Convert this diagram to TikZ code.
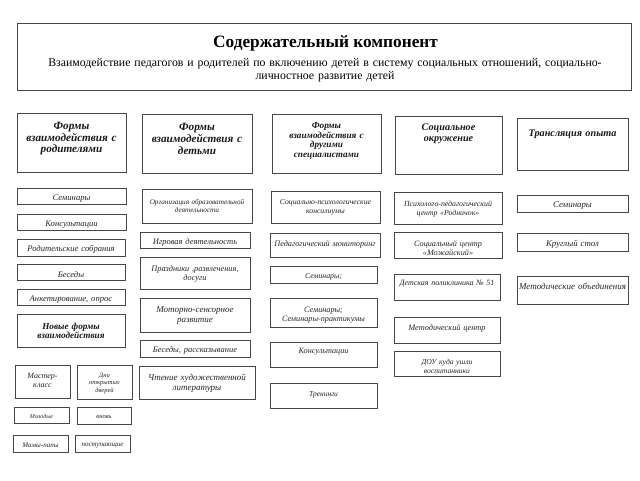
\documentclass[tikz,border=0pt]{standalone}
\usepackage{fontspec}
\setmainfont{Liberation Serif}
\tikzset{
  boxst/.style={draw=black!72, line width=0.8pt, inner sep=0pt, rectangle},
  tx/.style={inner sep=0pt, align=center, font=\itshape\fontsize{#1}{\dimexpr #1pt*115/100\relax}\selectfont, text=black!85},
  txb/.style={inner sep=0pt, align=center, font=\bfseries\itshape\fontsize{#1}{\dimexpr #1pt*104/100\relax}\selectfont, text=black!90},
}
% name, x1, y1, x2, y2, text style, dy (down, px), text
\newcommand\bx[8]{%
  \pgfmathsetmacro\bxw{#4-#2}%
  \pgfmathsetmacro\bxh{#5-#3}%
  \pgfmathsetmacro\bxt{#4-#2-4}%
  \pgfmathsetmacro\bxd{-(#7)-1.8}%
  \node[boxst, minimum width=\bxw pt, minimum height=\bxh pt] (#1) at ({(#2+#4)/2},{(#3+#5)/2}) {};
  \node[#6, text width=\bxt pt] (#1t) at ([yshift=\bxd pt]#1.center) {#8};
}
\begin{document}
\begin{tikzpicture}[x=1pt,y=-1pt]
\useasboundingbox[fill=white] (0,0) rectangle (640,480);
% title
\node[boxst, minimum width=614pt, minimum height=67pt] (title) at (324,56.5) {};
\node[inner sep=0pt, font=\bfseries\fontsize{17.3}{20}\selectfont] (titlet) at (325.5,43.5) {Содержательный компонент};
\node[inner sep=0pt, align=center, font=\fontsize{11.8}{13}\selectfont, text width=600pt] (subt) at (325,70.5) {Взаимодействие педагогов и родителей по включению детей в систему социальных отношений, социально-\\личностное развитие детей};
% column 1
\bx{h1}{17}{113}{126}{172}{txb=11.2}{-5.5}{Формы\\взаимодействия с\\родителями}
\bx{a1}{17}{188}{126}{204}{tx=8.6}{0.5}{Семинары}
\bx{a2}{17}{214}{126}{230}{tx=8.6}{0.5}{Консультации}
\bx{a3}{17}{239}{125}{256}{tx=8.6}{0.5}{Родительские собрания}
\bx{a4}{17}{264}{125}{280}{tx=8.6}{0.5}{Беседы}
\bx{a5}{17}{289}{125}{305}{tx=8.6}{0.5}{Анкетирование, опрос}
\bx{a6}{17}{314}{125}{347}{txb=9.2}{-1.5}{Новые формы\\взаимодействия}
\bx{a7}{15}{365}{70}{398}{tx=8}{-2.5}{Мастер-\\класс}
\bx{a8}{77}{365}{132}{399}{tx=6.5}{-0.5}{Дни\\открытых\\дверей}
\bx{a9}{14}{407}{69}{423}{tx=6}{0}{Молодые}
\bx{a10}{77}{407}{131}{424}{tx=6.5}{0}{вновь}
\bx{a11}{13}{435}{68}{452}{tx=7}{0}{Мамы-папы}
\bx{a12}{75}{435}{130}{452}{tx=7}{0}{поступающие}
% column 2
\bx{h2}{142}{114}{252}{173}{txb=11.2}{-6.5}{Формы\\взаимодействия с\\детьми}
\bx{b1}{142}{189}{252}{223}{tx=7.2}{-2}{Организация образовательной\\деятельности}
\bx{b2}{140}{232}{250}{248}{tx=8.5}{0.5}{Игровая деятельность}
\bx{b3}{140}{257}{250}{289}{tx=8.3}{-1}{Праздники ,развлечения,\\досуги}
\bx{b4}{140}{298}{250}{332}{tx=9}{-1}{Моторно-сенсорное\\развитие}
\bx{b5}{140}{340}{250}{357}{tx=8.5}{0.5}{Беседы, рассказывание}
\bx{b6}{139}{366}{255}{399}{tx=9}{-1}{Чтение художественной\\литературы}
% column 3
\bx{h3}{272}{114}{381}{173}{txb=9.2}{-4.5}{Формы\\взаимодействия с\\другими\\специалистами}
\bx{c1}{271}{191}{380}{223}{tx=7.7}{-1.5}{Социально-психологические\\консилиумы}
\bx{c2}{270}{233}{380}{257}{tx=8.2}{-2}{Педагогический мониторинг}
\bx{c3}{270}{266}{377}{283}{tx=7.8}{0}{Семинары;}
\bx{c4}{270}{298}{377}{327}{tx=8.2}{1}{Семинары;\\Семинары-практикумы}
\bx{c5}{270}{342}{377}{367}{tx=8.2}{-5}{Консультации}
\bx{c6}{270}{383}{377}{408}{tx=7.5}{-2.5}{Тренинги}
% column 4
\bx{h4}{395}{116}{502}{174}{txb=10.2}{-13}{Социальное\\окружение}
\bx{d1}{394}{192}{502}{224}{tx=7.8}{-1}{Психолого-педагогический\\центр «Родничок»}
\bx{d2}{394}{232}{502}{258}{tx=8.2}{1.5}{Социальный центр\\«Можайский»}
\bx{d3}{394}{274}{500}{300}{tx=8}{-5}{Детская поликлиника №~51}
\bx{d4}{394}{317}{500}{343}{tx=8.3}{-3}{Методический центр}
\bx{d5}{394}{351}{500}{376}{tx=7.6}{1}{ДОУ куда ушли\\воспитанники}
% column 5
\bx{h5}{517}{118}{628}{170}{txb=10.2}{-12}{Трансляция опыта}
\bx{e1}{517}{195}{628}{212}{tx=8.8}{0.5}{Семинары}
\bx{e2}{517}{233}{628}{251}{tx=8.8}{0.5}{Круглый стол}
\bx{e3}{517}{276}{628}{304}{tx=9}{-5}{Методические объединения}
\end{tikzpicture}
\end{document}
